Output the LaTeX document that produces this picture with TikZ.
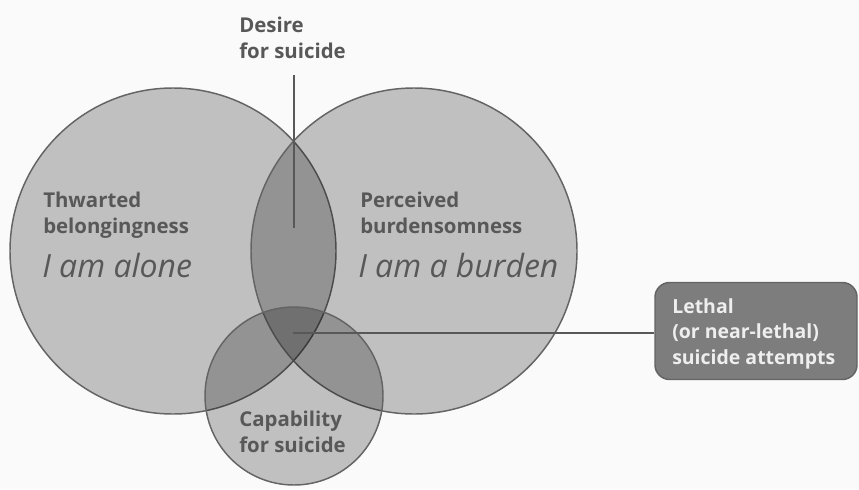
\documentclass[tikz,border=0pt]{standalone}
\usepackage{fontspec}
\setmainfont{Open Sans}
\usetikzlibrary{positioning}

\definecolor{inkgray}{RGB}{88,88,88}
\definecolor{ringgray}{RGB}{100,100,100}
\definecolor{boxgray}{RGB}{125,125,125}
\definecolor{boxtext}{RGB}{238,238,238}
\definecolor{paper}{RGB}{250,250,250}

\tikzset{
  ring/.style={circle, draw=ringgray, line width=1.1pt, fill=black, fill opacity=0.23, draw opacity=1, inner sep=0pt},
  heading/.style={anchor=base west, inner sep=0pt, text=inkgray, align=left, font=\bfseries\fontsize{15.3}{19.5}\selectfont},
  saying/.style={anchor=base west, inner sep=0pt, text=inkgray, font=\itshape\fontsize{24}{28}\selectfont},
  link/.style={draw=inkgray, line width=1.4pt},
  lethalbox/.style={draw=ringgray, line width=1.1pt, fill=boxgray, rounded corners=11pt, minimum width=151.5pt, minimum height=72.75pt, inner sep=0pt},
  boxlines/.style={anchor=base west, inner sep=0pt, text=boxtext, align=left, font=\bfseries\fontsize{14.6}{19}\selectfont}
}

\begin{document}
\begin{tikzpicture}[x=0.75pt,y=0.75pt,yscale=-1,xscale=1]
%background and picture size
\fill[paper] (0,0) rectangle (859,489);
\useasboundingbox (0,0) rectangle (859,489);

%Shape: Circles
\node[ring, minimum size=244.5pt] (alone) at (173,251) {};
\node[ring, minimum size=244.5pt] (burden) at (414,251) {};
\node[ring, minimum size=133.5pt] (capab) at (294,396) {};

% Text Node (anchored at the baseline of the last line)
\node[heading] (desire) at (239,58) {Desire\\for suicide};
% Text Node
\node[heading] (thwarted) at (43,233) {Thwarted\\belongingness};
\node[saying] (alonetxt) at (42,277) {I am alone};
% Text Node
\node[heading] (perceived) at (360,233) {Perceived\\burdensomness};
\node[saying] (burdentxt) at (358,277) {I am a burden};
% Text Node
\node[heading] (capability) at (239,452) {Capability\\for suicide};
% Box
\node[lethalbox] (lethal) at (756,331) {};
\node[boxlines] (lethaltxt) at (672,364) {Lethal\\(or near-lethal)\\suicide attempts};

%Lines
\coordinate (desireend) at (294,228);
\coordinate (lethalstart) at (293,333);
\draw[link] (desireend |- 0,75) -- (desireend);
\draw[link] (lethalstart) -- (lethalstart -| lethal.west);
\end{tikzpicture}
\end{document}
